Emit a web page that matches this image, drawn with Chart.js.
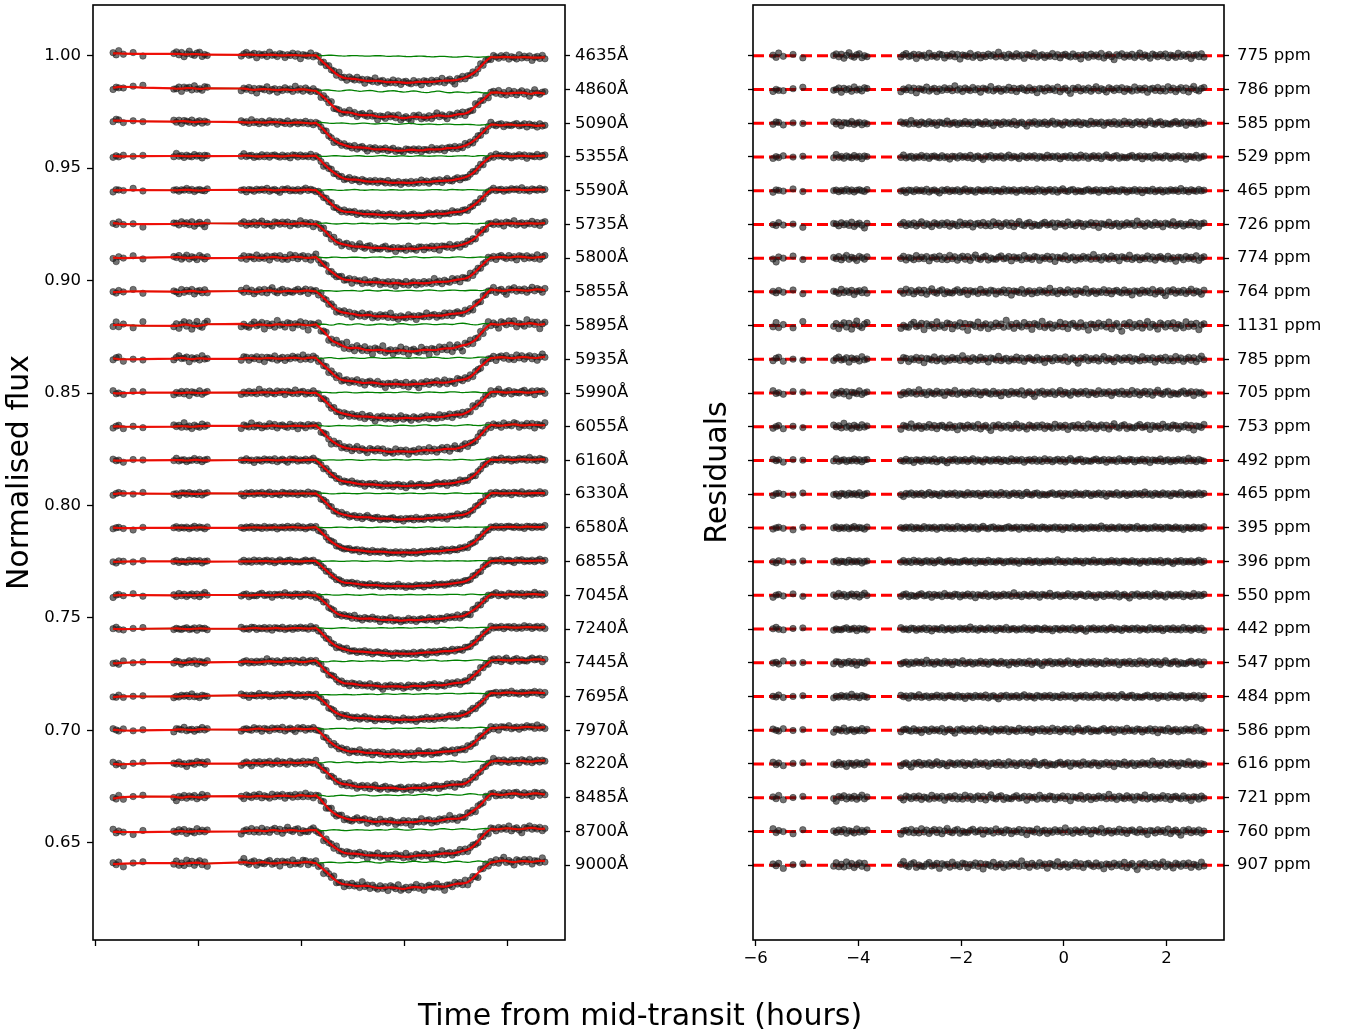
<!DOCTYPE html>
<html><head><meta charset="utf-8">
<script src="https://cdn.jsdelivr.net/npm/chart.js@4/dist/chart.umd.min.js"></script>
<style>
html,body{margin:0;padding:0;background:#fff;width:1347px;height:1034px;overflow:hidden;}
#left{position:absolute;left:0;top:0;}
#right{position:absolute;left:680px;top:0;}
#xtitle{position:absolute;left:0;width:1280px;top:997px;text-align:center;font-family:'DejaVu Sans';font-size:30px;line-height:36px;color:#000;}
</style></head><body>
<canvas id="left" width="680" height="1034"></canvas>
<canvas id="right" width="667" height="1034"></canvas>
<div id="xtitle">Time from mid-transit (hours)</div>
<script>
// ---------------- data ----------------
const wavelengths = ['4635Å','4860Å','5090Å','5355Å','5590Å','5735Å','5800Å','5855Å','5895Å','5935Å','5990Å','6055Å','6160Å','6330Å','6580Å','6855Å','7045Å','7240Å','7445Å','7695Å','7970Å','8220Å','8485Å','8700Å','9000Å'];
const rmsPpm = [775,786,585,529,465,726,774,764,1131,785,705,753,492,465,395,396,550,442,547,484,586,616,721,760,907];
const ppmLabels = rmsPpm.map(v => v + ' ppm');
const offsets = [1.000,0.985,0.970,0.955,0.940,0.925,0.910,0.895,0.880,0.865,0.850,0.835,0.820,0.805,0.790,0.775,0.760,0.745,0.730,0.715,0.700,0.685,0.670,0.655,0.640];
const yTickValues = [0.65,0.70,0.75,0.80,0.85,0.90,0.95,1.00];
const xTickValues = [-6,-4,-2,0,2];

// transit depth (fractional flux) for each wavelength
const depths = [0.0117,0.0116,0.0118,0.0119,0.0114,0.0113,0.0117,0.0118,0.0119,0.0118,0.0116,0.0116,0.0116,0.0115,0.0113,0.0113,0.0114,0.0115,0.0116,0.0115,0.0115,0.0118,0.0121,0.0119,0.0116];
// baseline level (ppm) at the first and last exposure
const trendStartPpm = [1000,1000,1100,400,200,300,200,0,0,200,0,0,0,200,0,0,0,0,0,-200,0,0,0,-300,600];
const trendEndPpm   = [-800,-1800,-1000,400,400,400,400,800,800,800,400,800,400,400,400,400,400,800,1300,1700,1300,1300,1700,1300,1700];
const wiggleAmp = [0.6,1.2,0.8,0.7,0.6,0.8,0.9,1.0,1.4,1.0,0.8,0.9,0.6,0.6,0.5,0.5,0.7,0.6,1.0,0.7,0.8,1.0,1.2,1.0,1.3];

// exposure times (hours from mid-transit)
const times = [
 -5.66,-5.60,-5.55,-5.46,-5.27,-5.08,
 -4.48,-4.43,-4.38,-4.33,-4.28,-4.23,-4.18,-4.13,-4.08,-4.03,-3.98,-3.93,-3.88,-3.83,
 -3.17,-3.12,-3.07,-3.02,-2.97,-2.92,-2.87,-2.82,-2.77,-2.72,
 -2.67,-2.62,-2.57,-2.52,-2.47,-2.42,-2.37,-2.32,-2.27,-2.22,
 -2.17,-2.12,-2.07,-2.02,-1.97,-1.92,-1.87,-1.82,-1.77,-1.72,
 -1.67,-1.62,-1.57,-1.52,-1.47,-1.42,-1.37,-1.32,-1.27,-1.22,
 -1.17,-1.12,-1.07,-1.02,-0.97,-0.92,-0.87,-0.82,-0.77,-0.72,
 -0.67,-0.62,-0.57,-0.52,-0.47,-0.42,-0.37,-0.32,-0.27,-0.22,
 -0.17,-0.12,-0.07,-0.02,
 0.03,0.08,0.13,0.18,0.23,0.28,0.33,0.38,0.43,0.48,
 0.53,0.58,0.63,0.68,0.73,0.78,0.83,0.88,0.93,0.98,
 1.03,1.08,1.13,1.18,1.23,1.28,1.33,1.38,1.43,1.48,
 1.53,1.58,1.63,
 1.68,1.73,1.78,1.83,1.88,1.93,1.98,2.03,2.08,2.13,
 2.18,2.23,2.28,2.33,2.38,2.43,2.48,2.53,2.58,2.63,
 2.68,2.73
];
// fraction of full depth at each exposure (limb-darkened transit profile)
const transitShape = [
 0,0,0,0,0,0,
 0,0,0,0,0,0,0,0,0,0,0,0,0,0,
 0,0,0,0,0,0,0,0,0,0,
 0,0,0,0,0,0,0,0,0,0,
 0,0,0,0,0,0,0,0,0,0,
 0.08,0.17,0.27,0.36,0.46,0.55,0.63,0.70,0.76,0.80,
 0.83,0.85,0.865,0.88,0.89,0.90,0.91,0.92,0.93,0.935,
 0.94,0.95,0.955,0.96,0.965,0.97,0.975,0.98,0.985,0.99,
 0.99,0.995,1.0,1.0,
 1.0,0.995,0.99,0.99,0.985,0.98,0.975,0.97,0.965,0.96,
 0.955,0.95,0.94,0.935,0.93,0.92,0.91,0.90,0.89,0.88,
 0.865,0.85,0.83,0.80,0.76,0.70,0.63,0.55,0.46,0.36,
 0.27,0.17,0.08,
 0,0,0,0,0,0,0,0,0,0,
 0,0,0,0,0,0,0,0,0,0,
 0,0
];
// systematics wiggle pattern (ppm)
const sysWiggle = [
 150,200,120,-50,-150,-80,
 200,300,250,100,-50,-100,0,150,250,200,50,-100,-200,-150,
 -100,0,100,150,100,0,-100,-150,-100,50,150,250,200,100,-50,-150,-200,-100,0,100,
 150,100,50,-50,-100,-150,-50,50,100,50,
 -50,-100,0,150,250,300,200,50,-100,-200,
 -250,-150,0,100,200,150,50,-50,-150,-200,
 -100,50,200,300,250,100,-50,-150,-100,0,
 100,200,150,0,-150,-250,-200,-50,100,200,
 250,150,0,-100,-200,-150,0,150,250,200,
 50,-100,-200,-250,-150,0,150,300,350,200,
 0,-150,-200,-100,50,150,100,0,-100,-150,
 -50,100,200,150,50,-50,-100,-50,50,100,
 150,100,0,-100,-150,-100,0,100,150
];
// residual scatter pattern (units of the rms)
const noise = [
 0.4,-0.9,1.6,-0.3,0.8,-1.2,0.2,1.1,-0.6,0.9,-1.4,0.3,1.8,-0.2,-0.8,0.6,1.2,-1.1,0.1,-0.5,
 -0.7,0.5,1.3,-0.4,0.0,0.9,-1.6,0.7,-0.1,0.4,-1.0,1.5,-0.3,0.2,-0.8,1.0,0.6,-1.3,0.3,-0.2,
 1.1,-0.6,0.8,-1.9,0.5,0.2,-0.4,1.4,-0.9,0.1,0.7,-1.2,0.3,-0.5,1.0,-0.1,0.6,-0.7,2.1,-0.3,
 0.4,-1.1,0.9,0.0,-0.6,1.2,-0.2,0.5,-1.5,0.8,0.3,-0.4,1.7,-0.8,0.1,0.6,-1.0,0.2,-0.3,1.3,
 -0.5,0.7,-1.2,0.4,0.9,-0.1,-0.7,1.1,-0.4,0.2,-1.8,0.6,0.3,-0.9,1.0,-0.2,0.5,-0.6,1.4,-1.3,
 0.1,0.8,-0.5,-2.2,0.7,0.0,1.2,-0.8,0.4,-0.3,0.9,-1.0,0.2,1.6,-0.7,0.5,-0.1,-1.4,1.0,0.3,
 -0.6,0.8,-0.2,1.1,-1.1,0.4,0.0,-0.9,1.5,-0.4,0.6,-0.3,0.9,-1.6,0.2,0.7,-0.5,1.2,-0.8
];

// ---------------- build ----------------
const X_MIN = -6.05, X_MAX = 3.12, Y_MIN = 0.6067, Y_MAX = 1.0226;
Chart.defaults.font.family = 'DejaVu Sans';
Chart.defaults.color = '#000';
const TICK_FONT = 16.5;

const POINT_FILL = 'rgba(20,20,20,0.6)';
const POINT_EDGE = 'rgba(40,40,40,0.5)';

const N = times.length;
const tFirst = times[0], tLast = times[N-1];
const leftDatasets = [], rightDatasets = [];
offsets.forEach((off, k) => {
  const green = [], red = [], pts = [], res = [];
  for (let j = 0; j < N; j++) {
    const trend = trendStartPpm[k] + (trendEndPpm[k] - trendStartPpm[k]) * (times[j] - tFirst) / (tLast - tFirst);
    const sys = (trend + wiggleAmp[k] * sysWiggle[(j + k * 11) % sysWiggle.length]) * 1e-6;
    const tr = 1 - depths[k] * (transitShape[j] || 0);
    const g = off + sys;
    const r = off + (1 + sys) * tr - 1;
    const e = rmsPpm[k] * 1e-6 * noise[(j + k * 17) % noise.length];
    green.push({x: times[j], y: g});
    red.push({x: times[j], y: r});
    pts.push({x: times[j], y: r + e});
    res.push({x: times[j], y: off + e});
  }
  leftDatasets.push({data: pts, order: 3, showLine: false, pointRadius: 3.2, pointBackgroundColor: POINT_FILL, pointBorderColor: POINT_EDGE, pointBorderWidth: 1});
  leftDatasets.push({data: green, order: 2, showLine: true, pointRadius: 0, borderColor: '#008000', borderWidth: 1.3, fill: false, tension: 0});
  leftDatasets.push({data: red, order: 1, showLine: true, pointRadius: 0, borderColor: 'rgba(255,0,0,0.9)', borderWidth: 2.2, fill: false, tension: 0});
  rightDatasets.push({data: [{x: X_MIN, y: off}, {x: X_MAX, y: off}], order: 2, showLine: true, pointRadius: 0, borderColor: '#ff0000', borderWidth: 3, borderDash: [11, 5], fill: false});
  rightDatasets.push({data: res, order: 1, showLine: false, pointRadius: 3.2, pointBackgroundColor: POINT_FILL, pointBorderColor: POINT_EDGE, pointBorderWidth: 1});
});

const framePlugin = {
  id: 'frame',
  afterDraw(chart) {
    const {ctx, chartArea: a} = chart;
    ctx.save();
    ctx.strokeStyle = '#000';
    ctx.lineWidth = 1.6;
    ctx.strokeRect(a.left, a.top, a.right - a.left, a.bottom - a.top);
    ctx.restore();
  }
};

function nearestIndex(arr, v) {
  let best = 0;
  arr.forEach((a, i) => { if (Math.abs(a - v) < Math.abs(arr[best] - v)) best = i; });
  return best;
}
const tickGrid = (len) => ({display: true, drawOnChartArea: false, drawTicks: true, tickLength: len, tickWidth: 1.3, tickColor: '#000'});
const xScale = (showLabels) => ({
  type: 'linear', position: 'bottom', min: X_MIN, max: X_MAX,
  afterBuildTicks: s => { s.ticks = xTickValues.map(v => ({value: v})); },
  ticks: {display: showLabels, autoSkip: false, maxRotation: 0, padding: 3, font: {size: TICK_FONT}, color: '#000',
    callback: v => (v < 0 ? '\u2212' + Math.abs(v) : String(v))},
  grid: tickGrid(6), border: {display: false},
  afterFit: s => { s.height = 94; s.paddingLeft = 0; s.paddingRight = 0; }
});
const offsetAxis = (pos, labels, width, showLabels, pad) => ({
  type: 'linear', position: pos, min: Y_MIN, max: Y_MAX,
  afterBuildTicks: s => { s.ticks = offsets.map(v => ({value: v})); },
  ticks: {display: showLabels, autoSkip: false, padding: pad, font: {size: TICK_FONT}, color: '#000',
    callback: v => labels ? labels[nearestIndex(offsets, v)] : ''},
  grid: tickGrid(5), border: {display: false},
  afterFit: s => { s.width = width; s.paddingTop = 0; s.paddingBottom = 0; }
});

new Chart(document.getElementById('left'), {
  type: 'scatter',
  data: {datasets: leftDatasets},
  options: {
    responsive: false, animation: false, devicePixelRatio: 1, events: [],
    layout: {padding: {top: 3, left: 0, right: 0, bottom: 0}},
    plugins: {legend: {display: false}, tooltip: {enabled: false}},
    scales: {
      x: xScale(false),
      y: {
        type: 'linear', position: 'left', min: Y_MIN, max: Y_MAX,
        afterBuildTicks: s => { s.ticks = yTickValues.map(v => ({value: v})); },
        ticks: {autoSkip: false, padding: 6, font: {size: TICK_FONT}, color: '#000', callback: v => Number(v).toFixed(2)},
        grid: tickGrid(6), border: {display: false},
        title: {display: true, text: 'Normalised flux', font: {size: 30}, color: '#000', padding: {top: 2, bottom: 0}},
        afterFit: s => { s.width = 93; s.paddingTop = 0; s.paddingBottom = 0; }
      },
      y2: offsetAxis('right', wavelengths, 115, true, 5)
    }
  },
  plugins: [framePlugin]
});

new Chart(document.getElementById('right'), {
  type: 'scatter',
  data: {datasets: rightDatasets},
  options: {
    responsive: false, animation: false, devicePixelRatio: 1, events: [],
    layout: {padding: {top: 3, left: 0, right: 0, bottom: 0}},
    plugins: {legend: {display: false}, tooltip: {enabled: false}},
    scales: {
      x: xScale(true),
      y: Object.assign(offsetAxis('left', null, 73, false, 5), {
        title: {display: true, text: 'Residuals', font: {size: 30}, color: '#000', padding: {top: 20, bottom: 0}}
      }),
      y2: offsetAxis('right', ppmLabels, 123, true, 8)
    }
  },
  plugins: [framePlugin]
});
</script>
</body></html>
